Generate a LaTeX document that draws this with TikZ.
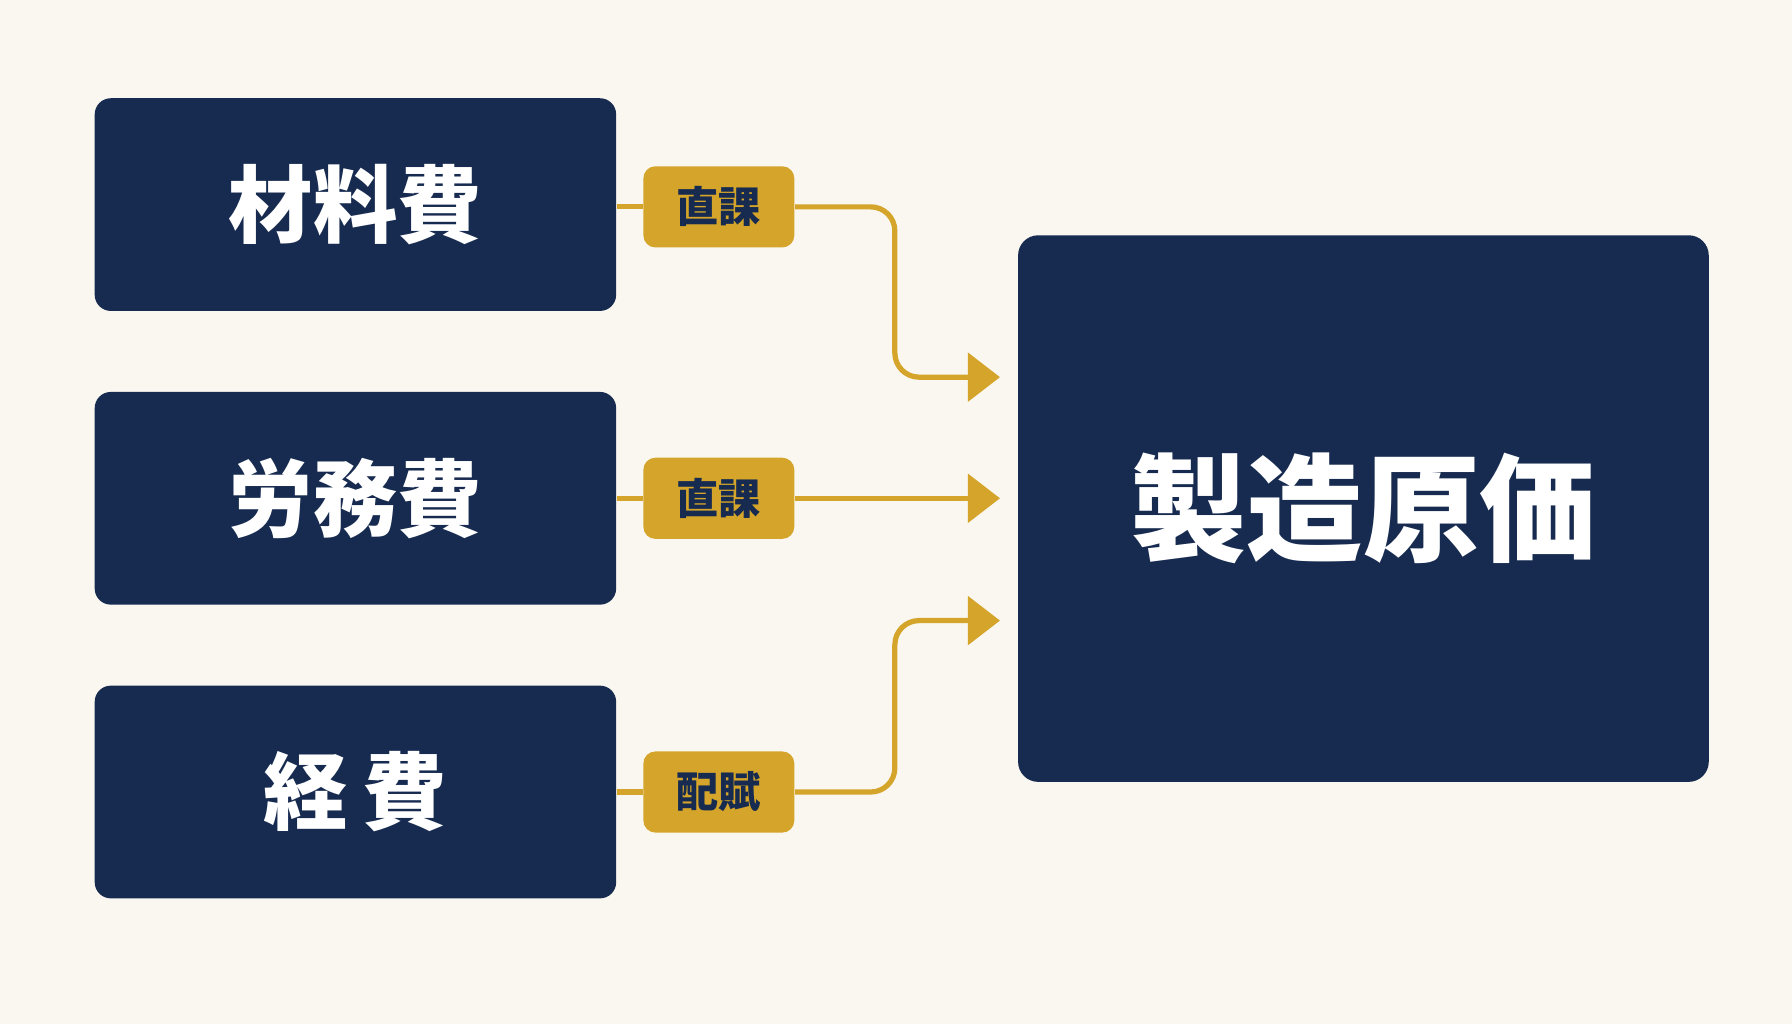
\documentclass[tikz,border=0pt]{standalone}
\usepackage{fontspec}
\newfontfamily\cjk{Noto Sans CJK JP}
\usetikzlibrary{arrows.meta}
\definecolor{navy}{HTML}{172B50}
\definecolor{gold}{HTML}{D4A52A}
\definecolor{paper}{HTML}{FAF7F0}
\begin{document}
\begin{tikzpicture}
[x=0.01cm,y=-0.01cm,
  costbox/.style={fill=navy,rounded corners=4pt,minimum width=4.56cm,minimum height=1.86cm,
    text=white,font=\cjk\bfseries\fontsize{21}{21}\selectfont},
  tagbox/.style={fill=gold,rounded corners=3pt,minimum width=1.32cm,minimum height=0.71cm,
    text=navy,font=\cjk\bfseries\fontsize{10.5}{10.5}\selectfont},
  flow/.style={draw=gold,line width=1.3pt,rounded corners=6pt},
  flowarrow/.style={flow,-{Triangle[width=12pt,length=8pt]}}]
\fill[paper] (0,0) rectangle (1568,896);
% cost boxes
\node (mat) at (311,179) [costbox] {材料費};
\node (lab) at (311,436) [costbox] {労務費};
\node (exp) at (311,693) [costbox] {経\,費};
\node (total) at (1193,445) [fill=navy,rounded corners=5pt,minimum width=6.04cm,minimum height=4.78cm,
  text=white,font=\cjk\bfseries\fontsize{29}{29}\selectfont] {製造原価};
% tags
\node (t1) at (629,181) [tagbox] {直課};
\node (t2) at (629,436) [tagbox] {直課};
\node (t3) at (629,693) [tagbox] {配賦};
% end points
\coordinate (e1) at (875,330);
\coordinate (e2) at (875,436);
\coordinate (e3) at (875,543);
% connectors
\draw[flow] (mat.east |- t1) -- (t1.west);
\draw[flow] (lab.east) -- (t2.west);
\draw[flow] (exp.east |- t3) -- (t3.west);
\draw[flowarrow] (t1.east) -| (783,330) -- (e1);
\draw[flowarrow] (t2.east) -- (e2);
\draw[flowarrow] (t3.east) -| (783,543) -- (e3);
\end{tikzpicture}
\end{document}
